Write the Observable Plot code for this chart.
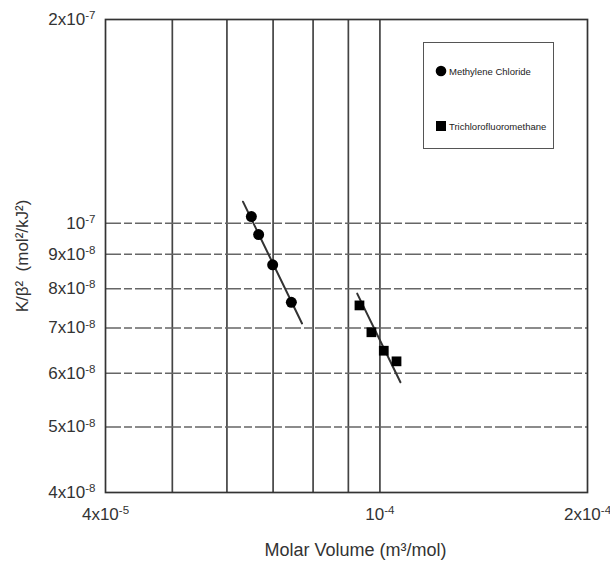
<!DOCTYPE html>
<html>
<head>
<meta charset="utf-8">
<script src="https://cdn.jsdelivr.net/npm/d3@7"></script>
<script src="https://cdn.jsdelivr.net/npm/@observablehq/plot@0.6"></script>
<style>
  html, body { margin: 0; padding: 0; background: #fff; }
  #wrap { position: relative; width: 610px; height: 565px; font-family: "Liberation Sans", Arial, sans-serif; }
  #legend { position: absolute; left: 423px; top: 42px; width: 131px; height: 107px; border: 1.5px solid #555; box-sizing: border-box; background: #fff; }
  .item { position: absolute; left: 11px; display: flex; align-items: center; font-size: 9.5px; color: #222; white-space: nowrap; }
  .item svg { margin-right: 2px; }
</style>
</head>
<body>
<div id="wrap"></div>
<script>
// ---- data ----
const xGrid = [5e-5, 6e-5, 7e-5, 8e-5, 9e-5, 1e-4];
const yGrid = [5e-8, 6e-8, 7e-8, 8e-8, 9e-8, 1e-7];
const xTicks = [4e-5, 1e-4, 2e-4];
const xTickLabels = ["4x10^-5", "10^-4", "2x10^-4"];
const yTicks = [4e-8, 5e-8, 6e-8, 7e-8, 8e-8, 9e-8, 1e-7, 2e-7];
const yTickLabels = ["4x10^-8", "5x10^-8", "6x10^-8", "7x10^-8", "8x10^-8", "9x10^-8", "10^-7", "2x10^-7"];

const seriesNames = ["Methylene Chloride", "Trichlorofluoromethane"];
const mcVolume = [6.51e-5, 6.67e-5, 6.99e-5, 7.44e-5];
const mcK = [1.023e-7, 9.62e-8, 8.68e-8, 7.64e-8];
const tfVolume = [9.34e-5, 9.72e-5, 1.013e-4, 1.057e-4];
const tfK = [7.56e-8, 6.90e-8, 6.48e-8, 6.25e-8];
const mcFitVolume = [6.33e-5, 7.71e-5];
const mcFitK = [1.076e-7, 7.11e-8];
const tfFitVolume = [9.27e-5, 1.071e-4];
const tfFitK = [7.87e-8, 5.82e-8];

const xTitle = "Molar Volume (m³/mol)";
const yTitle = "K/β²  (mol²/kJ²)";

// ---- tables ----
const mc = mcVolume.map((v, i) => ({v, k: mcK[i]}));
const tf = tfVolume.map((v, i) => ({v, k: tfK[i]}));
const mcFit = mcFitVolume.map((v, i) => ({v, k: mcFitK[i]}));
const tfFit = tfFitVolume.map((v, i) => ({v, k: tfFitK[i]}));

const xFmt = d => xTickLabels[xTicks.indexOf(d)];
const yFmt = d => yTickLabels[yTicks.indexOf(d)];

const chart = Plot.plot({
  width: 610,
  height: 565,
  marginLeft: 105,
  marginRight: 23,
  marginTop: 19,
  marginBottom: 73,
  style: { fontFamily: "'Liberation Sans', Arial, sans-serif", fontSize: "17px", color: "#333", background: "#fff" },
  x: { type: "log", domain: [4e-5, 2e-4] },
  y: { type: "log", domain: [4e-8, 2e-7] },
  marks: [
    Plot.gridX(xGrid, { stroke: "#444", strokeOpacity: 1, strokeWidth: 1.7 }),
    Plot.gridY(yGrid, { stroke: "#666", strokeOpacity: 1, strokeWidth: 1.5, strokeDasharray: "16,3,8,3" }),
    Plot.frame({ stroke: "#333", strokeWidth: 1.7 }),
    Plot.axisX(xTicks, { tickSize: 0, tickPadding: 15, tickFormat: xFmt, label: null }),
    Plot.axisY(yTicks, { tickSize: 0, tickPadding: 10, tickFormat: yFmt, label: null }),
    Plot.line(mcFit, { x: "v", y: "k", stroke: "#333", strokeWidth: 2 }),
    Plot.line(tfFit, { x: "v", y: "k", stroke: "#333", strokeWidth: 2 }),
    Plot.dot(mc, { x: "v", y: "k", r: 5.5, fill: "#000", symbol: "circle" }),
    Plot.dot(tf, { x: "v", y: "k", r: 5.5, fill: "#000", symbol: "square" }),
    Plot.text([xTitle], { frameAnchor: "bottom", dy: 63, dx: 9, fontSize: 18, fill: "#333", textAnchor: "middle" }),
    Plot.text([yTitle], { frameAnchor: "left", dx: -83, rotate: -90, fontSize: 17, fill: "#333", textAnchor: "middle" })
  ]
});

// superscript exponents on tick labels
d3.select(chart).selectAll('g[aria-label="x-axis tick label"] text, g[aria-label="y-axis tick label"] text').each(function () {
  const t = d3.select(this);
  const s = t.text();
  const parts = s.split("^");
  if (parts.length === 2) {
    t.text(parts[0]);
    t.append("tspan").attr("dy", "-0.5em").attr("font-size", "0.68em").text(parts[1]);
  }
});

const wrap = document.getElementById("wrap");
wrap.appendChild(chart);

// legend
const legend = document.createElement("div");
legend.id = "legend";
const symbols = [
  '<svg width="12" height="12"><circle cx="6" cy="6" r="5.3" fill="#000"/></svg>',
  '<svg width="12" height="12"><rect x="1" y="1" width="10" height="10" fill="#000"/></svg>'
];
const tops = [22, 77];
seriesNames.forEach((name, i) => {
  const it = document.createElement("div");
  it.className = "item";
  it.style.top = tops[i] + "px";
  it.innerHTML = symbols[i] + "<span>" + name + "</span>";
  legend.appendChild(it);
});
wrap.appendChild(legend);
</script>
</body>
</html>
